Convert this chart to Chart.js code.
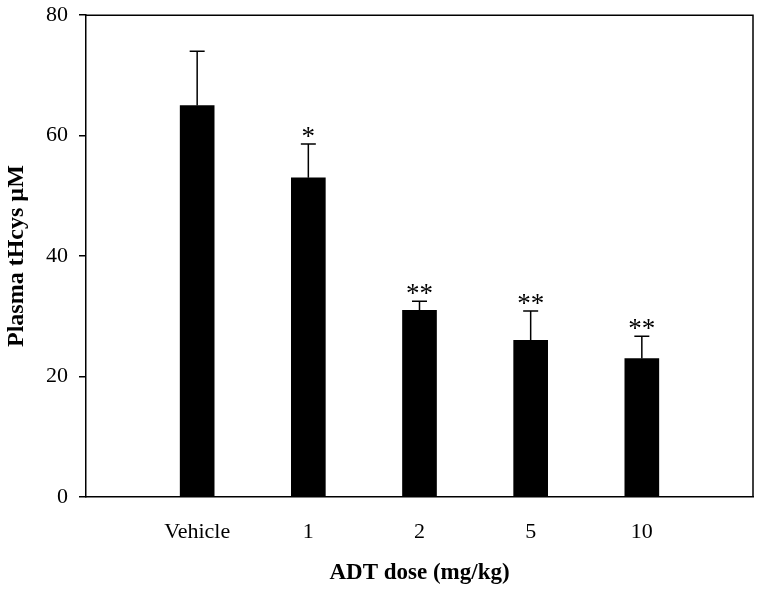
<!DOCTYPE html>
<html>
<head>
<meta charset="utf-8">
<script src="https://cdn.jsdelivr.net/npm/chart.js@4"></script>
<style>
  html, body { margin: 0; padding: 0; background: #fff; overflow: hidden; }
  #wrap { width: 767px; height: 600px; margin-top: -9px; }
</style>
</head>
<body>
<div id="wrap"><canvas id="grafico"></canvas></div>
<script>
// dados
const categorias = ['Vehicle', '1', '2', '5', '10'];
const medias = [65, 53, 31, 26, 23];
const erros = [9, 5.6, 1.5, 4.9, 3.7];
const signif = ['', '*', '**', '**', '**'];
const yTicks = [0, 20, 40, 60, 80];

// uma posição vazia em cada ponta do eixo x
const rotulos = [''].concat(categorias, ['']);
const valores = [null].concat(medias, [null]);

const fonte = 'Liberation Serif, Times New Roman, serif';

// moldura, barras de erro e asteriscos
const extras = {
    id: 'extras',
    afterDatasetsDraw(chart) {
        const ctx = chart.ctx;
        const area = chart.chartArea;
        const y = chart.scales.y;
        const meta = chart.getDatasetMeta(0);
        ctx.save();
        ctx.strokeStyle = '#000';
        ctx.lineWidth = 1.5;
        ctx.beginPath();
        ctx.moveTo(area.left, area.top);
        ctx.lineTo(area.right, area.top);
        ctx.lineTo(area.right, area.bottom);
        ctx.stroke();

        ctx.fillStyle = '#000';
        ctx.font = '27px ' + fonte;
        ctx.textAlign = 'center';
        ctx.textBaseline = 'alphabetic';
        medias.forEach((m, i) => {
            const bar = meta.data[i + 1];
            const x = bar.x;
            const yBase = y.getPixelForValue(m);
            const yTop = y.getPixelForValue(m + erros[i]);
            ctx.beginPath();
            ctx.moveTo(x, yBase);
            ctx.lineTo(x, yTop);
            ctx.moveTo(x - 7.5, yTop);
            ctx.lineTo(x + 7.5, yTop);
            ctx.stroke();
            if (signif[i]) {
                ctx.fillText(signif[i], x, yTop + 1);
            }
        });
        ctx.restore();
    }
};

new Chart(document.getElementById('grafico'), {
    type: 'bar',
    data: {
        labels: rotulos,
        datasets: [{
            data: valores,
            backgroundColor: '#000',
            borderWidth: 0,
            barThickness: 34
        }]
    },
    options: {
        responsive: true,
        maintainAspectRatio: false,
        animation: false,
        layout: { padding: { top: 6, right: 0, left: 0, bottom: 0 } },
        plugins: {
            legend: { display: false },
            tooltip: { enabled: false }
        },
        scales: {
            x: {
                offset: false,
                grid: { display: false },
                border: { display: true, color: '#000', width: 1.5 },
                ticks: {
                    color: '#000',
                    font: { family: fonte, size: 22 },
                    padding: 14,
                    maxRotation: 0,
                    autoSkip: false
                },
                title: {
                    display: true,
                    text: 'ADT dose (mg/kg)',
                    color: '#000',
                    font: { family: fonte, size: 23, weight: 'bold' },
                    padding: { top: 12, bottom: 4 }
                },
                afterFit: s => { s.height = 94; }
            },
            y: {
                min: 0,
                max: 80,
                afterBuildTicks: s => { s.ticks = yTicks.map(v => ({ value: v })); },
                grid: {
                    drawOnChartArea: false,
                    drawTicks: true,
                    tickLength: 7,
                    color: '#000',
                    lineWidth: 1.5
                },
                border: { display: true, color: '#000', width: 1.5 },
                ticks: {
                    color: '#000',
                    font: { family: fonte, size: 22 },
                    padding: 11
                },
                title: {
                    display: true,
                    text: 'Plasma tHcys µM',
                    color: '#000',
                    font: { family: fonte, size: 24, weight: 'bold' },
                    padding: { top: 2, bottom: 4 }
                },
                afterFit: s => { s.width = 86; }
            }
        }
    },
    plugins: [extras]
});
</script>
</body>
</html>
